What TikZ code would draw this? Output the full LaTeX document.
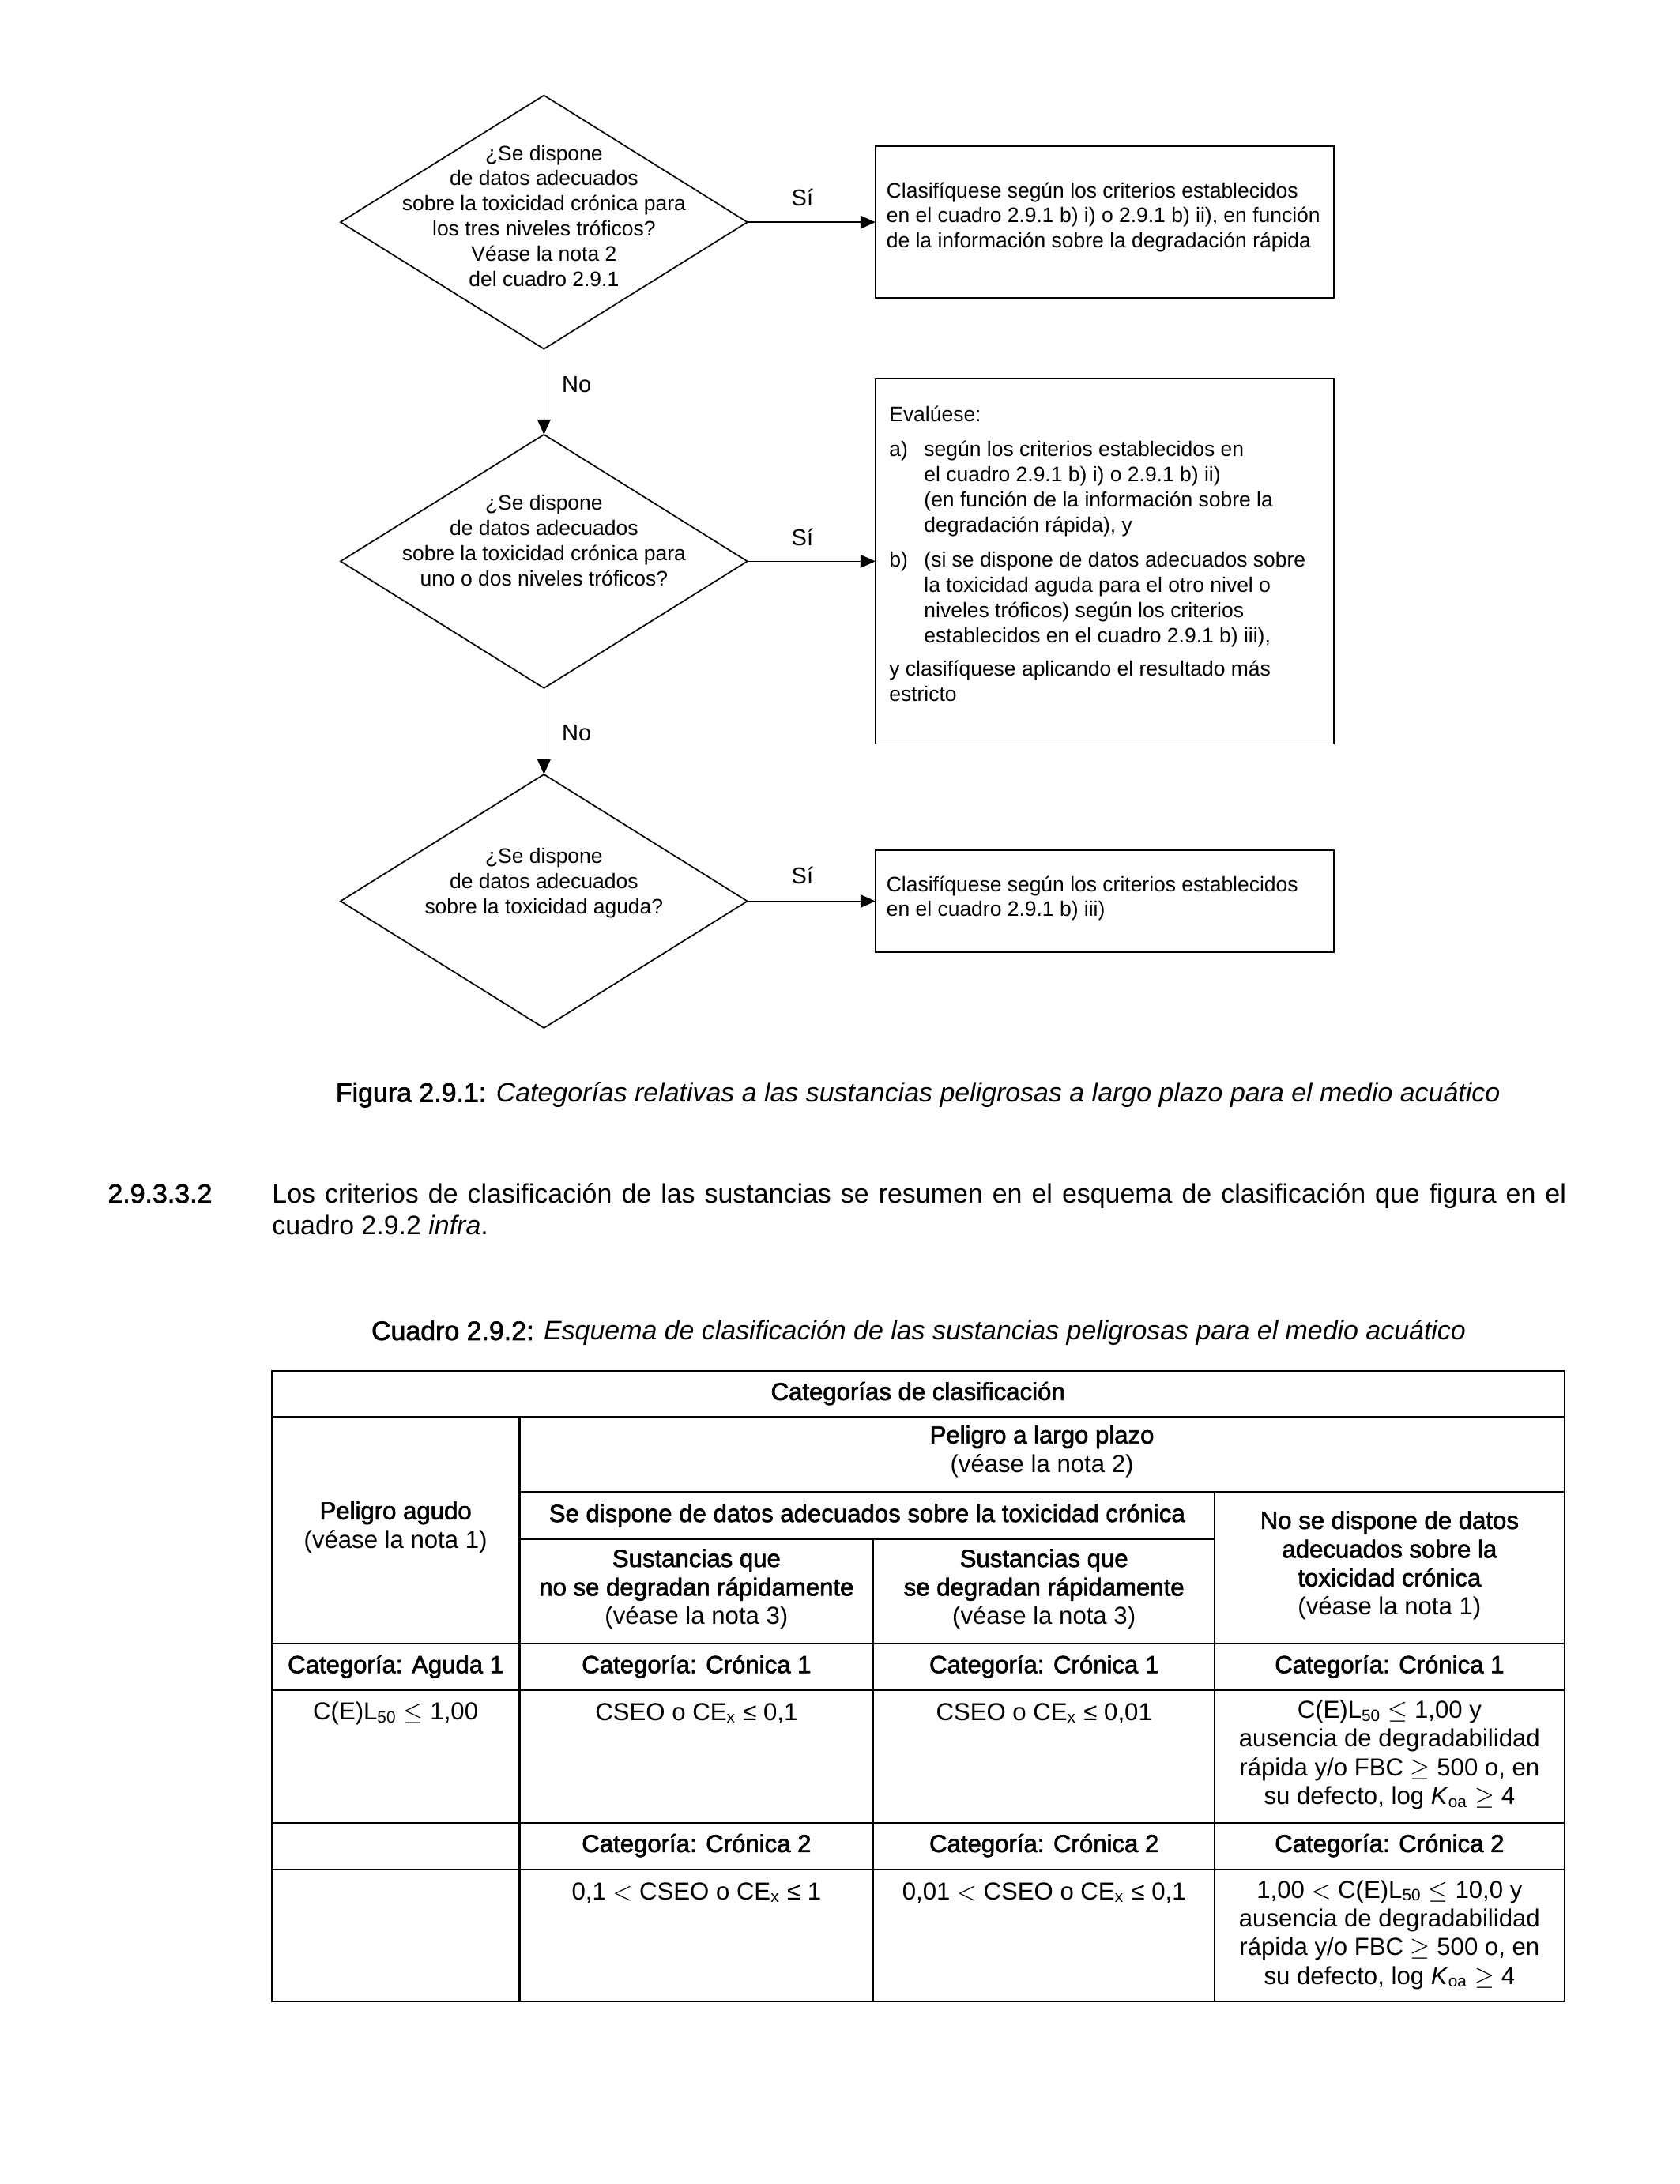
\documentclass[tikz,border=0pt]{standalone}
\usepackage{fontspec}
\setmainfont{Liberation Sans}
\newfontface\medfont[FakeBold=2]{Liberation Sans}
\usetikzlibrary{shapes.geometric,arrows.meta}
\newcommand\fflow{\fontsize{7.65}{9.2}\selectfont}
\newcommand\flbl{\fontsize{8.4}{9.6}\selectfont}
\newcommand\ftab{\fontsize{9}{10.5}\selectfont}
\newcommand\fbody{\fontsize{9.8}{11.7}\selectfont}
\newcommand\ind{\hspace*{12.7bp}}
\begin{document}
\begin{tikzpicture}[x=0.5075bp,y=-0.5075bp,
  dia/.style={draw,line width=0.5pt,shape=diamond,minimum width=148.2bp,minimum height=92.4bp,inner sep=0,outer sep=0},
  box/.style={draw,line width=0.5pt,rectangle,minimum width=167bp,inner sep=0,outer sep=0},
  ftxt/.style={font=\fflow,align=center,inner sep=0},
  ltxt/.style={font=\fflow,align=left,inner sep=0},
  lbl/.style={font=\flbl,inner sep=0},
  arr/.style={line width=0.5pt,-{Triangle[length=5.5pt,width=4.8pt]}},
  tl/.style={line width=0.6pt},
  th/.style={font=\ftab\medfont,align=center,inner sep=0},
  tr/.style={font=\ftab,align=center,inner sep=0}]
\useasboundingbox (0,0) rectangle (1206,1568);
% --- flowchart ---
\node[dia] (d1) at (390.5,159.5) {};
\node[dia] (d2) at (390.5,403) {};
\node[dia] (d3) at (390.5,647) {};
\node[ftxt] (d1t) at (390.5,155) {¿Se dispone\\de datos adecuados\\sobre la toxicidad crónica para\\los tres niveles tróficos?\\Véase la nota 2\\del cuadro 2.9.1};
\node[ftxt] (d2t) at (390.5,388) {¿Se dispone\\de datos adecuados\\sobre la toxicidad crónica para\\uno o dos niveles tróficos?};
\node[ftxt] (d3t) at (390.5,634) {¿Se dispone\\de datos adecuados\\sobre la toxicidad aguda?};
\node[box,minimum height=55.3bp] (b1) at (793,159.5) {};
\node[box,minimum height=133bp] (b2) at (793,403) {};
\node[box,minimum height=37.05bp] (b3) at (793,647) {};
\node[ltxt,anchor=west] (b1t) at (636,156) {Clasifíquese según los criterios establecidos\\en el cuadro 2.9.1 b) i) o 2.9.1 b) ii), en función\\de la información sobre la degradación rápida};
\node[ltxt,anchor=west] (b2t) at (638,397.5) {Evalúese:\\[3.6pt]
\makebox[12.7bp][l]{a)}según los criterios establecidos en\\
\ind el cuadro 2.9.1 b) i) o 2.9.1 b) ii)\\
\ind (en función de la información sobre la\\
\ind degradación rápida), y\\[3.6pt]
\makebox[12.7bp][l]{b)}(si se dispone de datos adecuados sobre\\
\ind la toxicidad aguda para el otro nivel o\\
\ind niveles tróficos) según los criterios\\
\ind establecidos en el cuadro 2.9.1 b) iii),\\[3pt]
y clasifíquese aplicando el resultado más\\
estricto};
\node[ltxt,anchor=west] (b3t) at (636,645) {Clasifíquese según los criterios establecidos\\en el cuadro 2.9.1 b) iii)};
\draw[arr] (d1.east) -- (b1.west);
\draw[arr] (d2.east) -- (b2.west);
\draw[arr] (d3.east) -- (b3.west);
\draw[arr] (d1.south) -- (d2.north);
\draw[arr] (d2.south) -- (d3.north);
\node[lbl] (s1) at (576,142) {Sí};
\node[lbl] (s2) at (576,385.5) {Sí};
\node[lbl] (s3) at (576,628.5) {Sí};
\node[lbl] (n1) at (414,276) {No};
\node[lbl] (n2) at (414,526) {No};
% --- captions and paragraph ---
\node[font=\fbody,inner sep=0] (cap1) at (659,786) {{\medfont Figura 2.9.1:} \textit{Categorías relativas a las sustancias peligrosas a largo plazo para el medio acuático}};
\node[font=\fbody\medfont,anchor=west,inner sep=0] (num) at (77,857) {2.9.3.3.2};
\node[font=\fbody,anchor=north west,inner sep=0,text width=471.5bp,align=justify] (para) at (195,849) {Los criterios de clasificación de las sustancias se resumen en el esquema de clasificación que figura en el\linebreak cuadro 2.9.2 \textit{infra}.};
\node[font=\fbody,inner sep=0] (cap2) at (659.5,957) {{\medfont Cuadro 2.9.2:} \textit{Esquema de clasificación de las sustancias peligrosas para el medio acuático}};
% --- table ---
\draw[tl] (195,984) rectangle (1123,1437);
\draw[tl] (195,1017) -- (1123,1017);
\draw[tl] (373,1071) -- (1123,1071);
\draw[tl] (373,1105) -- (872,1105);
\draw[tl] (195,1180) -- (1123,1180);
\draw[tl] (195,1213.5) -- (1123,1213.5);
\draw[tl] (195,1308.5) -- (1123,1308.5);
\draw[tl] (195,1342) -- (1123,1342);
\draw[tl] (373,1017) -- (373,1437);
\draw[tl] (627,1105) -- (627,1437);
\draw[tl] (872,1071) -- (872,1437);
\node[th] (t0) at (659,1000.5) {Categorías de clasificación};
\node[tr] (t1) at (748,1042) {{\medfont Peligro a largo plazo}\\(véase la nota 2)};
\node[tr] (t2) at (284,1096.5) {{\medfont Peligro agudo}\\(véase la nota 1)};
\node[th] (t3) at (622.5,1088) {Se dispone de datos adecuados sobre la toxicidad crónica};
\node[tr] (t4) at (997.5,1124) {{\medfont No se dispone de datos}\\{\medfont adecuados sobre la}\\{\medfont toxicidad crónica}\\(véase la nota 1)};
\node[tr] (t5) at (500,1141) {{\medfont Sustancias que}\\{\medfont no se degradan rápidamente}\\(véase la nota 3)};
\node[tr] (t6) at (749.5,1141) {{\medfont Sustancias que}\\{\medfont se degradan rápidamente}\\(véase la nota 3)};
\node[th] (c1) at (284,1196.5) {Categoría: Aguda 1};
\node[th] (c2) at (500,1196.5) {Categoría: Crónica 1};
\node[th] (c3) at (749.5,1196.5) {Categoría: Crónica 1};
\node[th] (c4) at (997.5,1196.5) {Categoría: Crónica 1};
\node[tr] (v1) at (284,1230) {C(E)L\textsubscript{50} $\leq$ 1,00};
\node[tr] (v2) at (500,1230) {CSEO o CE\textsubscript{x} ≤ 0,1};
\node[tr] (v3) at (749.5,1230) {CSEO o CE\textsubscript{x} ≤ 0,01};
\node[tr] (v4) at (997.5,1260) {C(E)L\textsubscript{50} $\leq$ 1,00 y\\ausencia de degradabilidad\\rápida y/o FBC $\geq$ 500 o, en\\su defecto, log \textit{K}\textsubscript{oa} $\geq$ 4};
\node[th] (e2) at (500,1325) {Categoría: Crónica 2};
\node[th] (e3) at (749.5,1325) {Categoría: Crónica 2};
\node[th] (e4) at (997.5,1325) {Categoría: Crónica 2};
\node[tr] (w2) at (500,1359) {0,1 $<$ CSEO o CE\textsubscript{x} ≤ 1};
\node[tr] (w3) at (749.5,1359) {0,01 $<$ CSEO o CE\textsubscript{x} ≤ 0,1};
\node[tr] (w4) at (997.5,1389) {1,00 $<$ C(E)L\textsubscript{50} $\leq$ 10,0 y\\ausencia de degradabilidad\\rápida y/o FBC $\geq$ 500 o, en\\su defecto, log \textit{K}\textsubscript{oa} $\geq$ 4};
\end{tikzpicture}
\end{document}
